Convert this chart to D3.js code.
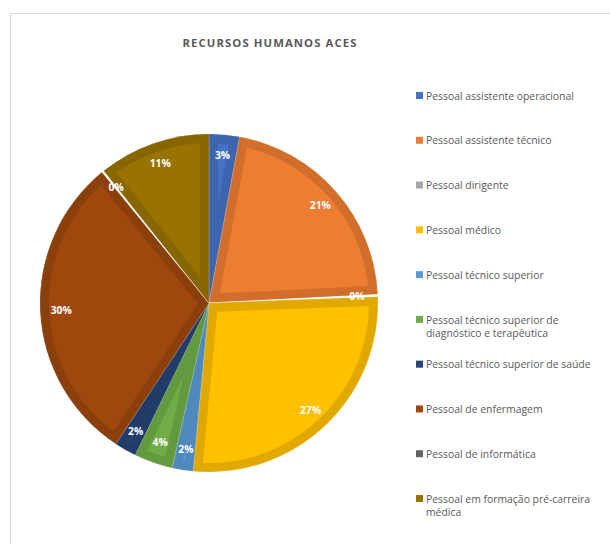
<!DOCTYPE html>
<html>
<head>
<meta charset="utf-8">
<script src="https://cdn.jsdelivr.net/npm/d3@7"></script>
<style>
  html, body { margin: 0; padding: 0; background: #fff; }
  svg { display: block; font-family: "Open Sans", "Noto Sans", sans-serif; }
</style>
</head>
<body>
<svg id="chart" width="610" height="544"></svg>
<script>
// Staff categories (ACES human resources) and their shares
const categories = [
  "Pessoal assistente operacional",
  "Pessoal assistente técnico",
  "Pessoal dirigente",
  "Pessoal médico",
  "Pessoal técnico superior",
  "Pessoal técnico superior de diagnóstico e terapêutica",
  "Pessoal técnico superior de saúde",
  "Pessoal de enfermagem",
  "Pessoal de informática",
  "Pessoal em formação pré-carreira médica"
];
const values = [2.9, 21.3, 0.2, 27.1, 2.0, 3.7, 2.1, 29.8, 0.2, 10.7];
const legendLines = [
  ["Pessoal assistente operacional"],
  ["Pessoal assistente técnico"],
  ["Pessoal dirigente"],
  ["Pessoal médico"],
  ["Pessoal técnico superior"],
  ["Pessoal técnico superior de", "diagnóstico e terapêutica"],
  ["Pessoal técnico superior de saúde"],
  ["Pessoal de enfermagem"],
  ["Pessoal de informática"],
  ["Pessoal em formação pré-carreira", "médica"]
];
const colors = ["#4472C4", "#ED7D31", "#A5A5A5", "#FFC000", "#5B9BD5",
                "#70AD47", "#264478", "#9E480E", "#636363", "#997300"];
const titleText = "RECURSOS HUMANOS ACES";

const svg = d3.select("#chart");

// chart frame
svg.append("rect")
  .attr("x", 10.5).attr("y", 13.5)
  .attr("width", 640).attr("height", 560)
  .attr("fill", "#fff").attr("stroke", "#d9d9d9").attr("stroke-width", 1);

svg.append("text")
  .attr("x", 270).attr("y", 47)
  .attr("text-anchor", "middle")
  .attr("fill", "#595959")
  .attr("font-size", 11.3)
  .attr("font-weight", "bold")
  .attr("letter-spacing", 1.1)
  .text(titleText);

const cx = 209, cy = 303, R = 169;
const total = d3.sum(values);

const pie = d3.pie().sort(null).value(d => d)(values);
const arc = d3.arc().innerRadius(0).outerRadius(R);
const labelArc = d3.arc().innerRadius(148).outerRadius(148);

const g = svg.append("g").attr("transform", `translate(${cx},${cy})`);
const defs = svg.append("defs");

pie.forEach((p, i) => {
  const path = arc(p);
  const tiny = p.value < 1;
  if (tiny) {
    // near-empty slices show only as a white sliver
    g.append("path")
      .attr("d", path)
      .attr("fill", "#fff")
      .attr("stroke", "#fff")
      .attr("stroke-width", 0.6);
    return;
  }
  const id = "clip" + i;
  defs.append("clipPath").attr("id", id).append("path").attr("d", path);
  const base = d3.color(colors[i]);
  const dark = base.darker(0.35);
  // slice with an inset darker rim
  g.append("path")
    .attr("d", path)
    .attr("fill", base.formatHex())
    .attr("stroke", dark.formatHex())
    .attr("stroke-width", 18)
    .attr("stroke-linejoin", "miter")
    .attr("clip-path", `url(#${id})`);
  // thin light separator
  g.append("path")
    .attr("d", path)
    .attr("fill", "none")
    .attr("stroke", "#fff")
    .attr("stroke-opacity", 0.3)
    .attr("stroke-width", 0.6);
});

// data labels
g.selectAll("text.lbl")
  .data(pie)
  .join("text")
  .attr("class", "lbl")
  .attr("transform", d => `translate(${labelArc.centroid(d)})`)
  .attr("text-anchor", "middle")
  .attr("dy", "0.35em")
  .attr("fill", "#fff")
  .attr("font-size", 10.3)
  .attr("font-weight", "bold")
  .text(d => Math.round(d.value / total * 100) + "%");

// legend
const legend = svg.append("g");
const ly = d3.scaleLinear().domain([0, 9]).range([96, 499]);
categories.forEach((c, i) => {
  const y = ly(i);
  legend.append("rect")
    .attr("x", 416).attr("y", y - 4)
    .attr("width", 7).attr("height", 7)
    .attr("fill", colors[i]);
  const t = legend.append("text")
    .attr("x", 426).attr("y", y)
    .attr("fill", "#595959")
    .attr("font-size", 10.4);
  legendLines[i].forEach((line, k) => {
    t.append("tspan").attr("x", 426).attr("dy", k === 0 ? "0.35em" : 13.5).text(line);
  });
});
</script>
</body>
</html>
